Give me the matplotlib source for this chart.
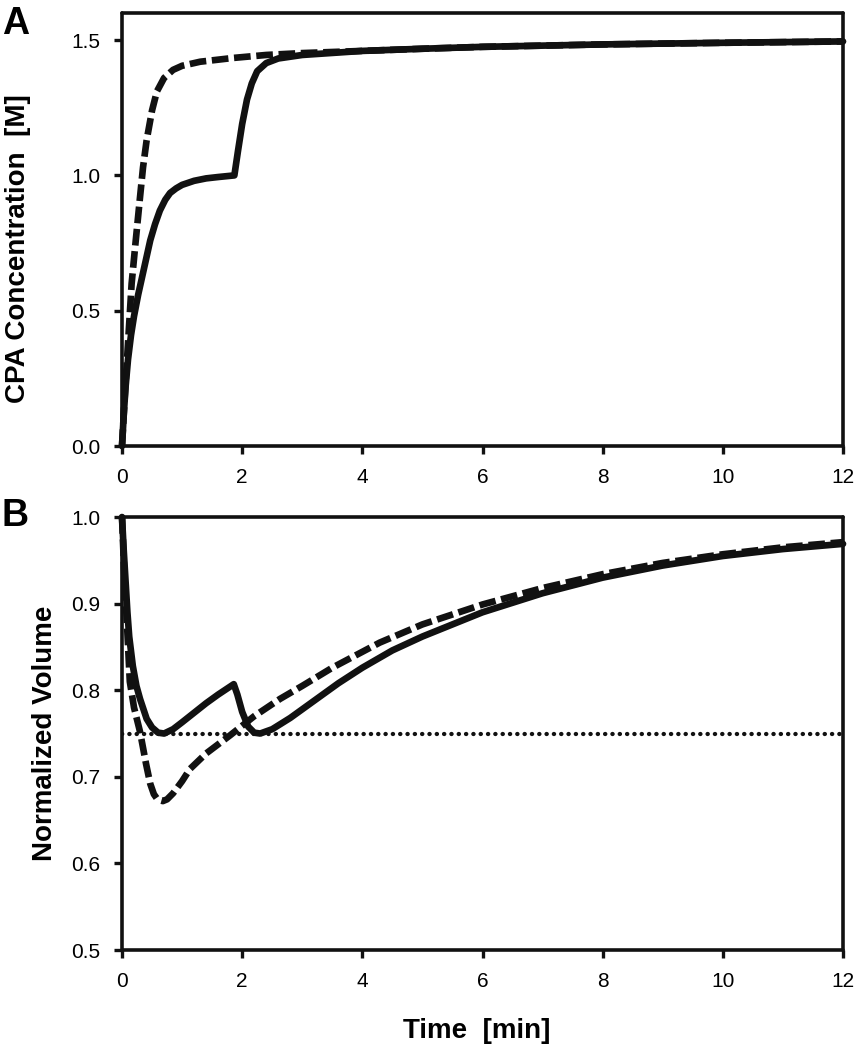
import matplotlib
matplotlib.use("Agg")
import matplotlib.pyplot as plt

plt.rcParams["font.family"] = ["Liberation Sans", "DejaVu Sans"]

# -----------------------------
# Data
# -----------------------------
# Panel A: CPA concentration [M]
a_solid_t = [0, 0.03, 0.06, 0.1, 0.15, 0.2, 0.27, 0.35, 0.47, 0.55, 0.63, 0.72, 0.8,
             0.9, 1.0, 1.2, 1.4, 1.6, 1.87, 1.93, 2.0, 2.08, 2.16, 2.25, 2.4, 2.6,
             3.0, 4.0, 5.0, 6.0, 8.0, 10.0, 12.0]
a_solid_c = [0.0, 0.12, 0.22, 0.32, 0.41, 0.48, 0.56, 0.64, 0.76, 0.82, 0.87, 0.91, 0.935,
             0.952, 0.965, 0.98, 0.989, 0.994, 1.0, 1.09, 1.19, 1.28, 1.34, 1.385, 1.415, 1.432,
             1.445, 1.46, 1.468, 1.475, 1.484, 1.49, 1.495]

a_dash_t = [0, 0.05, 0.1, 0.16, 0.22, 0.3, 0.35, 0.41, 0.5, 0.58, 0.7, 0.85, 1.0,
            1.3, 1.85, 2.4, 3.0, 4.0, 5.0, 6.0, 8.0, 10.0, 12.0]
a_dash_c = [0.0, 0.2, 0.38, 0.6, 0.74, 0.92, 1.03, 1.13, 1.24, 1.31, 1.36, 1.39, 1.405,
            1.42, 1.434, 1.445, 1.452, 1.46, 1.468, 1.475, 1.484, 1.49, 1.495]

# Panel B: normalized volume
b_solid_t = [0, 0.03, 0.06, 0.09, 0.12, 0.18, 0.24, 0.3, 0.41, 0.5, 0.6, 0.7, 0.85,
             1.0, 1.2, 1.4, 1.6, 1.86, 1.92, 2.0, 2.1, 2.2, 2.3, 2.5, 2.8, 3.2, 3.6,
             4.0, 4.5, 5.0, 6.0, 7.0, 8.0, 9.0, 10.0, 11.0, 12.0]
b_solid_v = [1.0, 0.96, 0.925, 0.89, 0.862, 0.828, 0.805, 0.79, 0.767, 0.757, 0.751, 0.75, 0.755,
             0.763, 0.774, 0.785, 0.795, 0.807, 0.795, 0.775, 0.758, 0.751, 0.75, 0.755, 0.768, 0.788, 0.808,
             0.826, 0.846, 0.862, 0.89, 0.912, 0.93, 0.944, 0.955, 0.963, 0.969]

b_dash_t = [0, 0.04, 0.08, 0.13, 0.2, 0.3, 0.4, 0.47, 0.53, 0.58, 0.63, 0.68, 0.75,
            0.85, 1.0, 1.13, 1.4, 1.8, 2.2, 2.63, 3.0, 3.5, 4.29, 5.0, 6.0, 7.0,
            8.0, 9.0, 10.0, 11.0, 12.0]
b_dash_v = [1.0, 0.93, 0.88, 0.81, 0.78, 0.752, 0.715, 0.692, 0.68, 0.675, 0.673, 0.672, 0.674,
            0.681, 0.695, 0.709, 0.727, 0.748, 0.77, 0.79, 0.805, 0.826, 0.855, 0.876, 0.899, 0.918,
            0.934, 0.947, 0.957, 0.965, 0.971]

limit_t = [0, 12]
limit_v = [0.75, 0.75]

x_ticks = [0, 2, 4, 6, 8, 10, 12]
a_yticks = [0.0, 0.5, 1.0, 1.5]
b_yticks = [0.5, 0.6, 0.7, 0.8, 0.9, 1.0]

# -----------------------------
# Figure
# -----------------------------
fig = plt.figure(figsize=(8.55, 10.5), dpi=100)
ax_a = fig.add_axes([0.1427, 0.5752, 0.8433, 0.4124])
ax_b = fig.add_axes([0.1427, 0.0952, 0.8433, 0.4124])

lw = 4.8
dash = (2.5, 0.85)

ax_a.plot(a_solid_t, a_solid_c, color="#111111", lw=lw, solid_capstyle="round",
          solid_joinstyle="round", clip_on=False, zorder=3)
ax_a.plot(a_dash_t, a_dash_c, color="#111111", lw=lw, dashes=dash,
          dash_capstyle="butt", clip_on=False, zorder=3)

# dotted 0.75 limit
ax_b.plot(limit_t, limit_v, color="#111111", lw=3.1, dashes=(0.05, 1.65),
          dash_capstyle="round", zorder=2)
ax_b.plot(b_solid_t, b_solid_v, color="#111111", lw=lw, solid_capstyle="round",
          solid_joinstyle="round", clip_on=False, zorder=3)
ax_b.plot(b_dash_t, b_dash_v, color="#111111", lw=lw, dashes=dash,
          dash_capstyle="butt", clip_on=False, zorder=3)

for ax in (ax_a, ax_b):
    ax.set_xlim(0, 12)
    ax.set_xticks(x_ticks)
    for side in ("left", "right", "top", "bottom"):
        ax.spines[side].set_linewidth(2.6)
        ax.spines[side].set_color("#111111")
        ax.spines[side].set_capstyle("round")
    ax.tick_params(direction="out", length=6, width=2.4, color="#111111",
                   labelsize=15, pad=9.5, top=False, right=False)
    for t in ax.xaxis.get_ticklines() + ax.yaxis.get_ticklines():
        t.set_solid_capstyle("round")

ax_a.set_ylim(0, 1.6)
ax_a.set_yticks(a_yticks)
ax_a.set_yticklabels([f"{v:.1f}" for v in a_yticks])
ax_a.set_ylabel("CPA Concentration  [M]", fontsize=20, fontweight="bold")
ax_a.yaxis.set_label_coords(-0.126, 0.457)

ax_b.set_ylim(0.5, 1.0)
ax_b.set_yticks(b_yticks)
ax_b.set_yticklabels([f"{v:.1f}" for v in b_yticks])
ax_b.set_ylabel("Normalized Volume", fontsize=20, fontweight="bold")
ax_b.yaxis.set_label_coords(-0.089, 0.5)
ax_b.set_xlabel("Time  [min]", fontsize=20, fontweight="bold")
ax_b.xaxis.set_label_coords(0.492, -0.157)

fig.text(0.002, 1 - 6 / 1050, "A", fontsize=27, fontweight="bold", va="top", ha="left")
fig.text(0.002, 1 - 498 / 1050, "B", fontsize=27, fontweight="bold", va="top", ha="left")

fig.savefig("out.png", dpi=100)
plt.close(fig)
